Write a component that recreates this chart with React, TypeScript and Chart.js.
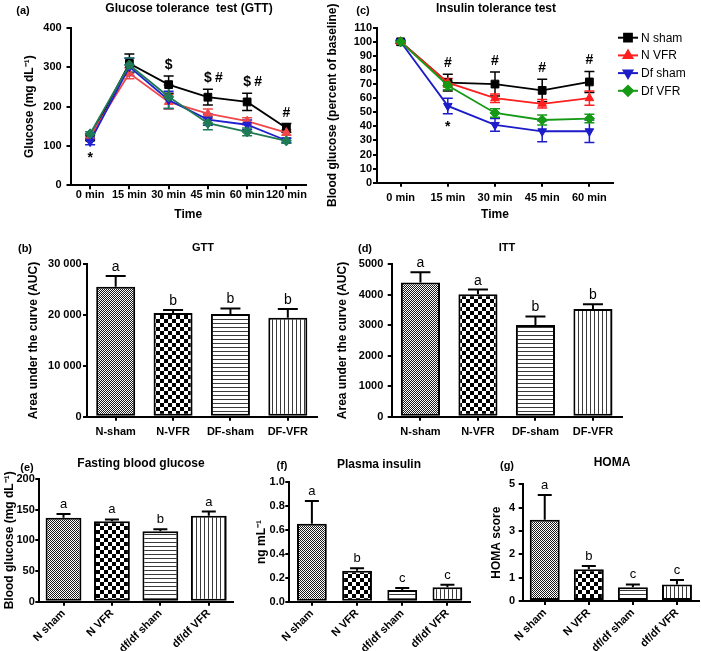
import React, { useEffect, useRef } from 'react';
import { Chart, registerables } from 'chart.js';
import { drawPoint } from 'chart.js/helpers';

Chart.register(...registerables);

const FONT = "'Liberation Sans', Arial, Helvetica, sans-serif";

// ---------- (a) Glucose tolerance test ----------
const gttTimes = ['0 min', '15 min', '30 min', '45 min', '60 min', '120 min'];
const gttNSham = [121, 310, 256, 224, 212, 146];
const gttNShamErr = [7, 24, 22, 20, 22, 11];
const gttNVfr = [124, 285, 212, 182, 163, 134];
const gttNVfrErr = [7, 14, 18, 12, 9, 7];
const gttDfSham = [111, 301, 217, 167, 154, 114];
const gttDfShamErr = [8, 22, 22, 14, 12, 6];
const gttDfVfr = [131, 306, 225, 158, 136, 113];
const gttDfVfrErr = [5, 18, 30, 17, 10, 6];
const gttAbove = ['', '', '$', '$#', '$#', '#'];
const gttBelow = ['*', '', '', '', '', ''];

// ---------- (c) Insulin tolerance test ----------
const ittTimes = ['0 min', '15 min', '30 min', '45 min', '60 min'];
const ittNSham = [100, 71, 70, 65.5, 71.5];
const ittNShamErr = [1, 6, 8.5, 8, 7.5];
const ittNVfr = [100, 71, 60, 56, 60];
const ittNVfrErr = [1, 3, 3, 3, 5];
const ittDfSham = [100, 54.5, 41, 36.5, 36.5];
const ittDfShamErr = [1, 5.5, 4.5, 7.5, 8];
const ittDfVfr = [100, 69, 49.5, 44.5, 45.5];
const ittDfVfrErr = [1, 3, 3, 3.5, 3];
const ittAbove = ['', '#', '#', '#', '#'];
const ittBelow = ['', '*', '', '', ''];

const seriesNames = ['N sham', 'N VFR', 'Df sham', 'Df VFR'];

// ---------- (b) GTT AUC ----------
const aucGroups = ['N-sham', 'N-VFR', 'DF-sham', 'DF-VFR'];
const gttAuc = [25600, 20400, 20200, 19500];
const gttAucErr = [2100, 600, 1100, 1700];
const gttAucLetters = ['a', 'b', 'b', 'b'];

// ---------- (d) ITT AUC ----------
const ittAuc = [4400, 4020, 3010, 3530];
const ittAucErr = [340, 150, 280, 160];
const ittAucLetters = ['a', 'a', 'b', 'b'];

// ---------- (e)(f)(g) ----------
const bottomGroups = ['N sham', 'N VFR', 'df/df sham', 'df/df VFR'];
const fastingGlucose = [137, 131, 115, 140];
const fastingGlucoseErr = [6, 3, 3, 7];
const fastingLetters = ['a', 'a', 'b', 'a'];
const plasmaInsulin = [0.653, 0.26, 0.098, 0.12];
const plasmaInsulinErr = [0.19, 0.02, 0.017, 0.022];
const insulinLetters = ['a', 'b', 'c', 'c'];
const homa = [3.48, 1.36, 0.59, 0.71];
const homaErr = [1.06, 0.14, 0.12, 0.19];
const homaLetters = ['a', 'b', 'c', 'c'];

// ---------- styling ----------
const tickFont = { family: FONT, size: 11, weight: 'bold' as const, lineHeight: 1 };
const axisTitleFont = { family: FONT, size: 12, weight: 'bold' as const, lineHeight: 1.2 };

function makePatterns(): CanvasPattern[] {
  const mk = (w: number, h: number, draw: (c: CanvasRenderingContext2D) => void) => {
    const cv = document.createElement('canvas');
    cv.width = w;
    cv.height = h;
    const c = cv.getContext('2d')!;
    c.fillStyle = '#fff';
    c.fillRect(0, 0, w, h);
    draw(c);
    return c.createPattern(cv, 'repeat')!;
  };
  const fine = mk(2, 2, (c) => {
    c.fillStyle = '#1a1a1a';
    c.fillRect(0, 0, 1, 1);
    c.fillRect(1, 1, 1, 1);
  });
  const checker = mk(8, 8, (c) => {
    c.fillStyle = '#000';
    c.fillRect(0, 0, 4, 4);
    c.fillRect(4, 4, 4, 4);
  });
  const horiz = mk(4, 4, (c) => {
    c.fillStyle = '#3a3a3a';
    c.fillRect(0, 0, 4, 1);
  });
  const vert = mk(4, 4, (c) => {
    c.fillStyle = '#3a3a3a';
    c.fillRect(0, 0, 1, 4);
  });
  return [fine, checker, horiz, vert];
}

type Overlay = {
  errors: number[][];
  up?: boolean;
  cap: number;
  lw: number;
  letters?: string[];
  letterSize?: number;
  letterGap?: number;
  above?: string[];
  below?: string[];
  legend?: boolean;
};

function overlayPlugin(o: Overlay) {
  const drawErr = (chart: any) => {
    const ctx = chart.ctx;
    const ys = chart.scales.y;
    chart.data.datasets.forEach((ds: any, i: number) => {
      const meta = chart.getDatasetMeta(i);
      const errs = o.errors[i];
      ctx.save();
      ctx.strokeStyle = o.up ? '#000' : ds.borderColor;
      ctx.lineWidth = o.lw;
      meta.data.forEach((el: any, j: number) => {
        const v = ds.data[j];
        const e = errs[j];
        if (!e) return;
        const x = el.x;
        const t = ys.getPixelForValue(v + e);
        const b = ys.getPixelForValue(o.up ? v : v - e);
        ctx.beginPath();
        ctx.moveTo(x, t);
        ctx.lineTo(x, b);
        ctx.moveTo(x - o.cap, t);
        ctx.lineTo(x + o.cap, t);
        if (!o.up) {
          ctx.moveTo(x - o.cap, b);
          ctx.lineTo(x + o.cap, b);
        }
        ctx.stroke();
      });
      ctx.restore();
    });
  };
  return {
    id: 'overlay',
    beforeDatasetsDraw(chart: any) {
      if (!o.up) drawErr(chart);
    },
    afterDatasetsDraw(chart: any) {
      const ctx = chart.ctx;
      const ys = chart.scales.y;
      if (o.up) drawErr(chart);
      const ds0 = chart.data.datasets;
      const meta0 = chart.getDatasetMeta(0);
      ctx.save();
      ctx.fillStyle = '#000';
      if (o.letters) {
        ctx.font = `normal ${o.letterSize || 13}px ${FONT}`;
        ctx.textAlign = 'center';
        ctx.textBaseline = 'alphabetic';
        o.letters.forEach((L, j) => {
          const el = meta0.data[j];
          const v = ds0[0].data[j] + o.errors[0][j];
          ctx.fillText(L, el.x, ys.getPixelForValue(v) - (o.letterGap ?? 5));
        });
      }
      ctx.font = `bold 14px ${FONT}`;
      ctx.textAlign = 'center';
      ctx.textBaseline = 'alphabetic';
      const n = meta0.data.length;
      for (let j = 0; j < n; j++) {
        const x = meta0.data[j].x;
        let top = Infinity;
        let bot = -Infinity;
        ds0.forEach((ds: any, i: number) => {
          const v = ds.data[j];
          const e = o.errors[i][j];
          top = Math.min(top, ys.getPixelForValue(v + e));
          bot = Math.max(bot, ys.getPixelForValue(v - e));
        });
        const a = o.above ? o.above[j] : '';
        if (a) {
          for (let k = 0; k < a.length; k++) ctx.fillText(a[k], x + k * 11, top - 7);
        }
        const b = o.below ? o.below[j] : '';
        if (b) ctx.fillText(b, x, bot + 17);
      }
      if (o.legend) {
        const ca = chart.chartArea;
        const x0 = ca.right + 5;
        ds0.forEach((ds: any, i: number) => {
          const y = ca.top + 10 + i * 17.7;
          ctx.strokeStyle = ds.borderColor;
          ctx.fillStyle = ds.borderColor;
          ctx.lineWidth = 2;
          ctx.beginPath();
          ctx.moveTo(x0, y);
          ctx.lineTo(x0 + 20, y);
          ctx.stroke();
          drawPoint(ctx, { pointStyle: ds.pointStyle, rotation: ds.pointRotation || 0, radius: ds.pointRadius, borderWidth: 1 } as any, x0 + 10, y);
          ctx.fillStyle = '#000';
          ctx.font = `normal 12px ${FONT}`;
          ctx.textAlign = 'left';
          ctx.textBaseline = 'middle';
          ctx.fillText(ds.label, x0 + 23, y + 0.5);
        });
      }
      ctx.restore();
    },
  };
}

function yScale(min: number, max: number, step: number, title: string, yW: number, titlePad: number, tickPad: number, fmt?: (v: any) => string) {
  const ticks: any = { stepSize: step, font: tickFont, color: '#000', padding: tickPad, callback: fmt || ((v: any) => String(v)) };
  return {
    min,
    max,
    ticks,
    grid: { drawOnChartArea: false, drawTicks: true, tickLength: 4, color: '#000', lineWidth: 2 },
    border: { display: true, color: '#000', width: 2 },
    title: { display: true, text: title, font: axisTitleFont, color: '#000', padding: { top: titlePad, bottom: 0 } },
    afterFit: (s: any) => {
      s.width = yW;
    },
  };
}

function xScale(xH: number, tickPad: number, rotate: boolean, title?: string, titlePadB?: number) {
  const sc: any = {
    type: 'category',
    offset: true,
    ticks: {
      font: tickFont,
      color: '#000',
      padding: tickPad,
      autoSkip: false,
      minRotation: rotate ? 45 : 0,
      maxRotation: rotate ? 45 : 0,
    },
    grid: { offset: false, drawOnChartArea: false, drawTicks: true, tickLength: 4, color: '#000', lineWidth: 2 },
    border: { display: true, color: '#000', width: 2 },
    afterFit: (s: any) => {
      s.height = xH;
    },
  };
  if (title) {
    sc.title = { display: true, text: title, font: axisTitleFont, color: '#000', padding: { top: 0, bottom: titlePadB } };
  }
  return sc;
}

function lineDatasets(vals: number[][], colors: string[]) {
  const styles = ['rect', 'triangle', 'triangle', 'rectRot'];
  const rots = [0, 0, 180, 0];
  const radii = [5.5, 5, 5, 5];
  return vals.map((d, i) => ({
    label: seriesNames[i],
    data: d,
    order: vals.length - i,
    borderColor: colors[i],
    backgroundColor: colors[i],
    pointBackgroundColor: colors[i],
    pointBorderColor: colors[i],
    pointBorderWidth: 1,
    pointStyle: styles[i],
    pointRotation: rots[i],
    pointRadius: radii[i],
    borderWidth: 1.8,
    tension: 0,
  }));
}

const baseOpts = (padTop: number, padRight: number) => ({
  responsive: false,
  animation: false as const,
  events: [] as any[],
  layout: { padding: { top: padTop, right: padRight, left: 0, bottom: 0 } },
  plugins: { legend: { display: false }, tooltip: { enabled: false } },
});

function buildA(): any {
  const colors = ['#000000', '#f04848', '#2020d0', '#1f7a55'];
  return {
    type: 'line',
    data: { labels: gttTimes, datasets: lineDatasets([gttNSham, gttNVfr, gttDfSham, gttDfVfr], colors) },
    options: {
      ...baseOpts(28, 10),
      scales: {
        x: xScale(42.7, 0, false, 'Time', 5.8),
        y: yScale(0, 400, 100, 'Glucose (mg dL⁻¹)', 70.5, 22.8, 4.8),
      },
    },
    plugins: [overlayPlugin({ errors: [gttNShamErr, gttNVfrErr, gttDfShamErr, gttDfVfrErr], cap: 5, lw: 1.5, above: gttAbove, below: gttBelow })],
  };
}

function buildC(): any {
  const colors = ['#000000', '#ff1f1f', '#1c1cc8', '#169a16'];
  return {
    type: 'line',
    data: { labels: ittTimes, datasets: lineDatasets([ittNSham, ittNVfr, ittDfSham, ittDfVfr], colors) },
    options: {
      ...baseOpts(27.7, 88),
      scales: {
        x: xScale(45.3, 5.5, false, 'Time', 5.8),
        y: yScale(0, 110, 10, 'Blood glucose (percent of baseline)', 57, 5.8, 1),
      },
    },
    plugins: [overlayPlugin({ errors: [ittNShamErr, ittNVfrErr, ittDfShamErr, ittDfVfrErr], cap: 5, lw: 1.5, above: ittAbove, below: ittBelow, legend: true })],
  };
}

function barBuild(p: {
  labels: string[];
  values: number[];
  errors: number[];
  letters: string[];
  max: number;
  step: number;
  title: string;
  yW: number;
  xH: number;
  padTop: number;
  padRight: number;
  titlePad: number;
  yTickPad: number;
  xTickPad: number;
  rotate: boolean;
  barPct: number;
  cap: number;
  letterSize: number;
  letterGap: number;
  fmt?: (v: any) => string;
}) {
  return (): any => ({
    type: 'bar',
    data: {
      labels: p.labels,
      datasets: [
        {
          data: p.values,
          backgroundColor: makePatterns(),
          borderColor: '#000',
          borderWidth: 2,
          borderSkipped: false,
          categoryPercentage: 1,
          barPercentage: p.barPct,
        },
      ],
    },
    options: {
      ...baseOpts(p.padTop, p.padRight),
      scales: {
        x: xScale(p.xH, p.xTickPad, p.rotate),
        y: yScale(0, p.max, p.step, p.title, p.yW, p.titlePad, p.yTickPad, p.fmt),
      },
    },
    plugins: [overlayPlugin({ errors: [p.errors], up: true, cap: p.cap, lw: 2, letters: p.letters, letterSize: p.letterSize, letterGap: p.letterGap })],
  });
}

const fmtThousands = (v: any) => (Number(v) === 0 ? '0' : `${Number(v) / 1000} 000`);

const buildB = barBuild({
  labels: aucGroups, values: gttAuc, errors: gttAucErr, letters: gttAucLetters,
  max: 30000, step: 10000, title: 'Area under the curve (AUC)',
  yW: 87, xH: 30.3, padTop: 29.3, padRight: 13.5, titlePad: 26.8, yTickPad: 1.3, xTickPad: 5.5,
  rotate: false, barPct: 0.68, cap: 10, letterSize: 14, letterGap: 5, fmt: fmtThousands,
});

const buildD = barBuild({
  labels: aucGroups, values: ittAuc, errors: ittAucErr, letters: ittAucLetters,
  max: 5000, step: 1000, title: 'Area under the curve (AUC)',
  yW: 61.7, xH: 30.3, padTop: 29.3, padRight: 79.3, titlePad: 5.8, yTickPad: 4.4, xTickPad: 5.5,
  rotate: false, barPct: 0.68, cap: 10, letterSize: 14, letterGap: 5,
});

const buildE = barBuild({
  labels: bottomGroups, values: fastingGlucose, errors: fastingGlucoseErr, letters: fastingLetters,
  max: 200, step: 50, title: 'Blood glucose (mg dL⁻¹)',
  yW: 39.3, xH: 49.3, padTop: 29, padRight: 7, titlePad: 2.8, yTickPad: 0.5, xTickPad: 2,
  rotate: true, barPct: 0.74, cap: 7, letterSize: 13, letterGap: 6,
});

const buildF = barBuild({
  labels: bottomGroups, values: plasmaInsulin, errors: plasmaInsulinErr, letters: insulinLetters,
  max: 1.0, step: 0.2, title: 'ng mL⁻¹',
  yW: 49.3, xH: 49.3, padTop: 32.3, padRight: 5, titlePad: 14.5, yTickPad: 0.5, xTickPad: 2,
  rotate: true, barPct: 0.66, cap: 7, letterSize: 13, letterGap: 6, fmt: (v: any) => Number(v).toFixed(1),
});

const buildG = barBuild({
  labels: bottomGroups, values: homa, errors: homaErr, letters: homaLetters,
  max: 5, step: 1, title: 'HOMA score',
  yW: 52.7, xH: 50, padTop: 34.3, padRight: 2, titlePad: 19.5, yTickPad: 3.7, xTickPad: 2,
  rotate: true, barPct: 0.68, cap: 7, letterSize: 13, letterGap: 6,
});

function Panel({ left, top, w, h, build }: { left: number; top: number; w: number; h: number; build: () => any }) {
  const ref = useRef<HTMLCanvasElement>(null);
  useEffect(() => {
    const chart = new Chart(ref.current!, build());
    return () => chart.destroy();
  }, [build]);
  return <canvas ref={ref} width={w} height={h} style={{ position: 'absolute', left, top, width: w, height: h }} />;
}

function Txt({ x, y, size = 12, children }: { x: number; y: number; size?: number; children: React.ReactNode }) {
  return (
    <div
      style={{
        position: 'absolute',
        left: x,
        top: y,
        transform: 'translate(-50%, -50%)',
        font: `bold ${size}px ${FONT}`,
        lineHeight: 1,
        whiteSpace: 'pre',
        color: '#000',
      }}
    >
      {children}
    </div>
  );
}

export default function App() {
  return (
    <div style={{ position: 'absolute', left: 0, top: 0, width: 701, height: 651, background: '#fff', overflow: 'hidden' }}>
      <Panel left={0} top={0} w={316} h={228} build={buildA} />
      <Panel left={320} top={0} w={381} h={228} build={buildC} />
      <Panel left={0} top={235} w={330} h={212} build={buildB} />
      <Panel left={330} top={235} w={371} h={212} build={buildD} />
      <Panel left={0} top={450} w={240} h={201} build={buildE} />
      <Panel left={240} top={450} w={235} h={201} build={buildF} />
      <Panel left={470} top={450} w={231} h={201} build={buildG} />

      <Txt x={23} y={10} size={11}>(a)</Txt>
      <Txt x={189} y={8}>Glucose tolerance  test (GTT)</Txt>
      <Txt x={363} y={10} size={11}>(c)</Txt>
      <Txt x={496} y={8}>Insulin tolerance test</Txt>
      <Txt x={25} y={248} size={11}>(b)</Txt>
      <Txt x={203} y={247} size={11}>GTT</Txt>
      <Txt x={365} y={248} size={11}>(d)</Txt>
      <Txt x={507} y={247} size={11}>ITT</Txt>
      <Txt x={27} y={467} size={11}>(e)</Txt>
      <Txt x={141} y={463} size={12}>Fasting blood glucose</Txt>
      <Txt x={282} y={465} size={11}>(f)</Txt>
      <Txt x={379} y={464} size={12}>Plasma insulin</Txt>
      <Txt x={507} y={465} size={11}>(g)</Txt>
      <Txt x={612} y={462} size={12}>HOMA</Txt>
    </div>
  );
}
